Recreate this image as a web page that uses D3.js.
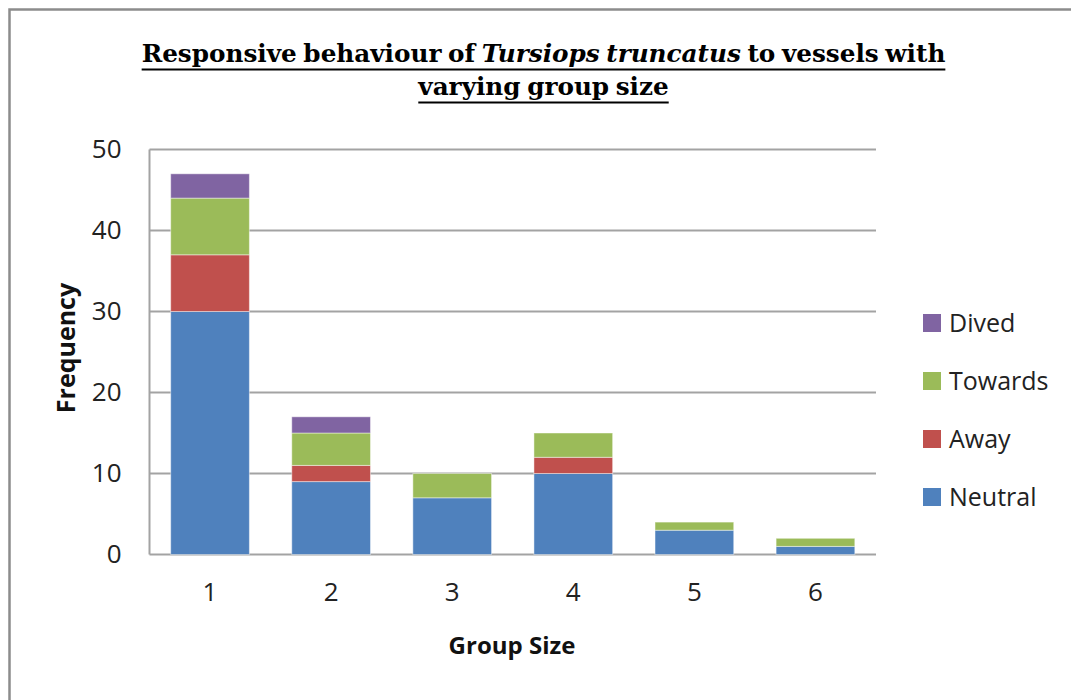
<!DOCTYPE html>
<html>
<head>
<meta charset="utf-8">
<script src="https://cdn.jsdelivr.net/npm/d3@7"></script>
<style>
  body { margin: 0; background: #fff; }
  svg { display: block; }
</style>
</head>
<body>
<div id="chart"></div>
<script>
// values
const groups = ["1", "2", "3", "4", "5", "6"];
const seriesNames = ["Neutral", "Away", "Towards", "Dived"];
const neutral = [30, 9, 7, 10, 3, 1];
const away = [7, 2, 0, 2, 0, 0];
const towards = [7, 4, 3, 3, 1, 1];
const dived = [3, 2, 0, 0, 0, 0];
const yTicks = [0, 10, 20, 30, 40, 50];
const colors = ["#4F81BD", "#C0504D", "#9BBB59", "#8064A2"];

const W = 1071, H = 700;
const plot = { left: 149.5, right: 876, top: 149.5, bottom: 554.5 };

// table for d3.stack
const rows = groups.map(function(g, i) {
  return { group: g, Neutral: neutral[i], Away: away[i], Towards: towards[i], Dived: dived[i] };
});
const stacked = d3.stack().keys(seriesNames)(rows);

const svg = d3.select("#chart").append("svg")
  .attr("width", W)
  .attr("height", H);

// outer frame (runs off the right/bottom edges like the reference)
svg.append("rect")
  .attr("x", 9.5).attr("y", 9.5)
  .attr("width", W + 20).attr("height", H + 20)
  .attr("fill", "none")
  .attr("stroke", "#8c8c8c")
  .attr("stroke-width", 2.5);

const x = d3.scaleBand()
  .domain(groups)
  .range([plot.left, plot.right])
  .paddingInner(0.35)
  .paddingOuter(0.175);

const y = d3.scaleLinear()
  .domain([0, 50])
  .range([plot.bottom, plot.top]);

// gridlines
svg.append("g")
  .selectAll("line")
  .data(yTicks)
  .enter()
  .append("line")
    .attr("x1", plot.left)
    .attr("x2", plot.right)
    .attr("y1", function(d) { return y(d); })
    .attr("y2", function(d) { return y(d); })
    .attr("stroke", "#a3a3a3")
    .attr("stroke-width", 2);

// left axis line
svg.append("line")
  .attr("x1", plot.left).attr("x2", plot.left)
  .attr("y1", plot.top).attr("y2", plot.bottom)
  .attr("stroke", "#a3a3a3")
  .attr("stroke-width", 2);

// y tick labels
const yAxis = svg.append("g")
  .attr("transform", "translate(" + plot.left + ",0)")
  .call(d3.axisLeft(y).tickValues(yTicks).tickSize(0).tickPadding(28));
yAxis.select(".domain").remove();
yAxis.selectAll("text")
  .attr("font-family", "'Open Sans', sans-serif")
  .attr("font-size", 26)
  .attr("fill", "#222");

// x tick labels
const xAxis = svg.append("g")
  .attr("transform", "translate(0," + plot.bottom + ")")
  .call(d3.axisBottom(x).tickSize(0).tickPadding(28));
xAxis.select(".domain").remove();
xAxis.selectAll("text")
  .attr("font-family", "'Open Sans', sans-serif")
  .attr("font-size", 26)
  .attr("fill", "#222");

// stacked bars
svg.append("g")
  .selectAll("g")
  .data(stacked)
  .enter()
  .append("g")
    .attr("fill", function(d, i) { return colors[i]; })
  .selectAll("rect")
  .data(function(d) { return d.filter(function(p) { return p[1] - p[0] > 0; }); })
  .enter()
  .append("rect")
    .attr("x", function(d) { return x(d.data.group); })
    .attr("width", x.bandwidth())
    .attr("y", function(d) { return y(d[1]); })
    .attr("height", function(d) { return y(d[0]) - y(d[1]); })
    .attr("stroke", "rgba(255,255,255,0.45)")
    .attr("stroke-width", 1);

// axis titles
svg.append("text")
  .attr("transform", "translate(75,348) rotate(-90)")
  .attr("text-anchor", "middle")
  .attr("font-family", "'Open Sans', sans-serif")
  .attr("font-weight", "bold")
  .attr("font-size", 25)
  .attr("fill", "#111")
  .text("Frequency");

svg.append("text")
  .attr("x", 512)
  .attr("y", 654)
  .attr("text-anchor", "middle")
  .attr("font-family", "'Open Sans', sans-serif")
  .attr("font-weight", "bold")
  .attr("font-size", 24)
  .attr("fill", "#111")
  .text("Group Size");

// legend (top entry is the last series)
const legend = svg.append("g")
  .selectAll("g")
  .data(seriesNames.slice().reverse())
  .enter()
  .append("g")
    .attr("transform", function(d, i) { return "translate(923," + (323 + i * 58) + ")"; });

legend.append("rect")
  .attr("x", 0).attr("y", -9)
  .attr("width", 18).attr("height", 18)
  .attr("fill", function(d) { return colors[seriesNames.indexOf(d)]; });

legend.append("text")
  .attr("x", 26)
  .attr("y", 8.5)
  .attr("font-family", "'Open Sans', sans-serif")
  .attr("font-size", 25)
  .attr("fill", "#222")
  .text(function(d) { return d; });

// title, two underlined lines; font size fitted so line 1 is ~804px wide
const titleLines = [
  [["Responsive behaviour of ", false], ["Tursiops truncatus", true], [" to vessels with", false]],
  [["varying group size", false]]
];
const titleY = [62, 95];
const titleCx = 543.5;

const titleTexts = titleLines.map(function(parts, k) {
  const t = svg.append("text")
    .attr("x", titleCx)
    .attr("y", titleY[k])
    .attr("text-anchor", "middle")
    .attr("font-family", "'DejaVu Serif', serif")
    .attr("font-weight", "bold")
    .attr("font-size", 24)
    .attr("word-spacing", -2)
    .attr("fill", "#000");
  parts.forEach(function(p) {
    t.append("tspan")
      .attr("font-style", p[1] ? "italic" : "normal")
      .text(p[0]);
  });
  return t;
});

const fitSize = 24 * 804 / titleTexts[0].node().getComputedTextLength();
titleTexts.forEach(function(t, k) {
  t.attr("font-size", fitSize);
  const w = t.node().getComputedTextLength();
  svg.append("line")
    .attr("x1", titleCx - w / 2)
    .attr("x2", titleCx + w / 2)
    .attr("y1", titleY[k] + 7.5)
    .attr("y2", titleY[k] + 7.5)
    .attr("stroke", "#000")
    .attr("stroke-width", 2);
});
</script>
</body>
</html>
